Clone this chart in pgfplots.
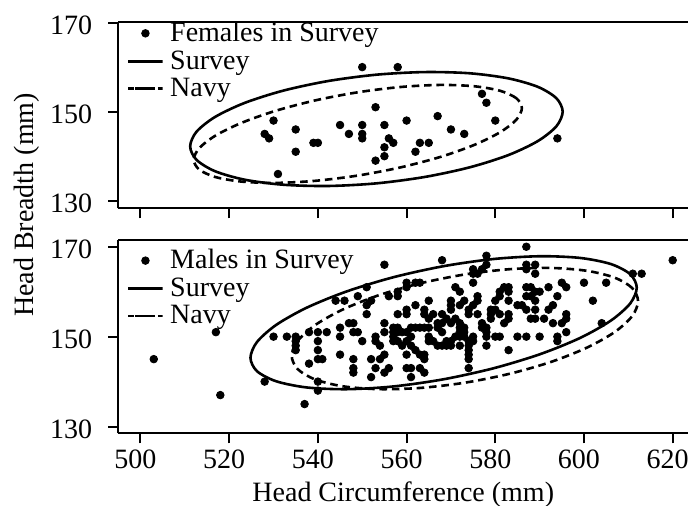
\documentclass[border=0pt]{standalone}
\usepackage{fontspec}
\setmainfont{Liberation Serif}
\usepackage{pgfplots}
\usepackage{pgfplotstable}
\pgfplotsset{compat=1.18}
\newcommand\bfnt{\fontsize{14}{16}\selectfont}

\pgfplotstableread{
x y
528 145
529 144
530 148
531 136
535 146
535 141
539 143
540 143
545 147
547 145
550 160
550 147
550 145
550 144
553 151
553 139
555 147
555 142
555 140
556 144
557 143
558 160
560 148
562 141
563 143
565 143
567 149
570 146
573 145
577 154
578 152
580 148
594 144
}\females

\pgfplotstableread{
x y
503 145
517 151
518 137
528 140
530 150
533 150
537 135
540 138
540 140
535 150
535 149
535 148
535 147
538 151
538 144
540 151
540 149
540 147
540 145
541 145
542 151
544 158
545 152
545 150
545 146
546 158
547 153
548 153
548 151
548 145
548 143
548 142
549 159
549 151
550 149
551 161
551 157
551 155
552 158
552 145
552 141
553 150
553 149
553 143
554 148
554 145
555 166
555 153
555 151
555 146
555 142
556 159
556 143
557 152
557 151
557 150
557 149
558 160
558 159
558 155
558 152
558 151
558 149
559 151
559 148
560 162
560 161
560 156
560 155
560 151
560 149
560 146
560 143
561 150
561 148
561 152
561 143
561 141
562 162
562 157
562 152
562 147
563 162
563 152
563 146
563 143
564 156
564 155
564 152
564 146
564 145
564 142
565 158
565 154
565 152
565 150
565 149
566 155
566 149
567 153
567 152
567 148
568 167
568 155
568 153
568 151
568 148
569 154
569 149
569 148
570 158
570 157
570 156
570 153
570 149
570 148
571 161
571 154
571 150
572 160
572 157
572 153
572 152
572 151
572 150
572 148
573 158
573 152
573 151
573 150
574 156
574 155
574 149
574 148
574 147
574 146
574 145
574 143
575 165
575 164
575 162
575 157
575 150
575 149
576 164
576 159
576 158
576 155
577 165
577 153
577 152
578 168
578 166
578 152
578 151
578 150
578 148
579 156
579 155
579 154
580 158
580 156
580 150
581 160
581 159
581 155
581 150
582 161
582 153
583 161
583 160
583 158
583 155
583 154
583 147
585 157
585 150
586 157
587 170
587 166
587 165
587 161
587 159
587 156
587 150
588 161
588 159
588 154
589 166
589 164
589 160
589 158
589 156
589 154
590 160
590 150
591 154
592 161
592 156
593 157
593 153
594 159
594 150
594 149
595 162
595 153
596 161
596 155
596 154
596 151
600 162
602 158
604 153
605 162
611 164
613 164
620 167
}\males

\pgfplotsset{
  panel/.style={
    scale only axis,
    width=284.95pt,
    xmin=495, xmax=623.5,
    axis x line=box, axis y line=left,
    axis line style={-, line width=1pt, black},
    xtick={500,520,...,620}, ytick={130,150,170},
    xtick pos=bottom, ytick pos=left,
    tick align=outside,
    major tick length=5pt,
    every tick/.style={black, line width=1pt},
    tick label style={font=\bfnt},
    /pgf/number format/assume math mode=true,
    /pgf/number format/1000 sep={},
    xticklabel style={xshift=-2.5pt},
    yticklabel style={yshift=-1.2pt, xshift=-4.5pt},
    legend style={draw=none, fill=none, font=\bfnt,
      at={(rel axis cs:0,1)}, anchor=north west,
      inner sep=0pt, row sep=1pt,
      nodes={inner xsep=2pt, inner ysep=1pt}},
    legend cell align=left,
    label style={font=\bfnt},
  },
  dots/.style={only marks, mark=*, mark size=1.9pt, black},
  survey/.style={black, line width=1.3pt, smooth cycle, no marks},
  navy/.style={black, line width=1.3pt, smooth cycle, no marks, dash pattern=on 3.8pt off 2.4pt},
}

\begin{document}
\begin{tikzpicture}
\begin{axis}[panel,
  at={(59.15pt,-104.15pt)}, anchor=south west,
  height=93.3pt, ymin=128.3, ymax=170.2,
  xticklabels={},
  ylabel={Head Breadth (mm)},
  ylabel style={at={(rel axis cs:-0.1614,0.0177)}, anchor=center},
  legend style={xshift=3pt, yshift=1pt},
]
\addplot[dots] table {\females};
\addlegendentry{Females in Survey}
\addplot[survey] coordinates {(595.2,150.0) (593.77,153.02) (589.57,155.58) (582.9,157.48) (574.2,158.62) (564.07,158.89) (553.2,158.3) (542.33,156.88) (532.2,154.72) (523.5,151.97) (516.83,148.82) (512.63,145.49) (511.2,142.2) (512.63,139.18) (516.83,136.62) (523.5,134.72) (532.2,133.59) (542.33,133.31) (553.2,133.9) (564.07,135.33) (574.2,137.49) (582.9,140.23) (589.57,143.38) (593.77,146.71)};
\addlegendentry{Survey}
\addplot[navy] coordinates {(586,150.8) (584.74,153.02) (581.04,154.70) (575.16,155.71) (567.5,156.0) (558.58,155.53) (549,154.35) (539.42,152.53) (530.5,150.2) (522.84,147.51) (516.96,144.65) (513.26,141.82) (512,139.2) (513.26,136.98) (516.96,135.3) (522.84,134.29) (530.5,134.0) (539.42,134.47) (549,135.65) (558.58,137.47) (567.5,139.8) (575.16,142.49) (581.04,145.35) (584.74,148.18)};
\addlegendentry{Navy}
\end{axis}

\begin{axis}[panel,
  at={(59.15pt,-216.65pt)}, anchor=south west,
  height=96.65pt, ymin=128.5, ymax=171.5,
  xlabel={Head Circumference (mm)},
  xlabel style={at={(rel axis cs:0.5,0)}, anchor=center, yshift=-30.85pt},
  legend style={xshift=3pt, yshift=-3.5pt},
]
\addplot[dots] table {\males};
\addlegendentry{Males in Survey}
\addplot[survey] coordinates {(611.9,160.9) (610.42,163.89) (606.06,166.15) (599.14,167.51) (590.13,167.89) (579.62,167.27) (568.35,165.68) (557.08,163.23) (546.58,160.09) (537.56,156.48) (530.64,152.64) (526.28,148.82) (524.8,145.3) (526.28,142.31) (530.64,140.06) (537.56,138.69) (546.58,138.31) (557.08,138.93) (568.35,140.52) (579.62,142.97) (590.13,146.11) (599.14,149.72) (606.06,153.57) (610.42,157.38)};
\addlegendentry{Survey}
\addplot[navy] coordinates {(612.2,157.9) (610.87,160.81) (606.97,163.1) (600.76,164.63) (592.68,165.28) (583.26,165.01) (573.15,163.84) (563.04,161.85) (553.63,159.18) (545.54,156.0) (539.33,152.54) (535.43,149.02) (534.1,145.7) (535.43,142.79) (539.33,140.5) (545.54,138.97) (553.63,138.32) (563.04,138.59) (573.15,139.76) (583.26,141.75) (592.68,144.42) (600.76,147.6) (606.97,151.06) (610.87,154.58)};
\addlegendentry{Navy}
\end{axis}
\pgfresetboundingbox
\useasboundingbox (0pt,0pt) rectangle (344pt,-253pt);
\end{tikzpicture}
\end{document}
